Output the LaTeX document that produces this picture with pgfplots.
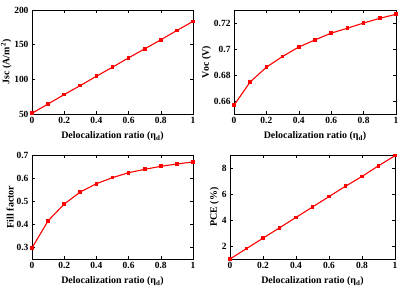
\documentclass[border=0pt]{standalone}
\usepackage{pgfplots}
\pgfplotsset{compat=1.18}
\usepackage{fontspec}
\setmainfont{Liberation Serif}
\pgfplotsset{
  myline/.style={red, line width=1.1pt, mark=square*, mark size=1.3pt, mark options={solid, fill=red}},
  myax/.style={
    scale only axis,
    xmin=0, xmax=1,
    xtick={0,0.2,0.4,0.6,0.8,1},
    tick align=inside,
    tick style={black, thin},
    major tick length=3pt,
    axis line style={black, line width=0.6pt},
    /pgf/number format/assume math mode=true,
    ticklabel style={font=\fontsize{9.5}{11}\selectfont\bfseries},
    label style={font=\fontsize{10}{11}\selectfont\bfseries},
    xlabel={Delocalization ratio (η\textsubscript{d})},
    xlabel style={yshift=-1pt},
    ylabel style={yshift=-4pt},
  }
}
\begin{document}
\begin{tikzpicture}[x=1bp,y=1bp]
\useasboundingbox (0,0) rectangle (415,290);
\begin{axis}[myax, at={(32bp,176bp)}, anchor=south west, width=161bp, height=104bp,
  ymin=50, ymax=200, ytick={50,100,150,200},
  ylabel={Jsc (A/m\textsuperscript{2})}]
\addplot[myline] coordinates {(0,51) (0.1,64.5) (0.2,78) (0.3,91) (0.4,104.5) (0.5,117.5) (0.6,131) (0.7,144) (0.8,157) (0.9,170.5) (1,183.5)};
\end{axis}
\begin{axis}[myax, at={(234bp,176bp)}, anchor=south west, width=162bp, height=104bp,
  ymin=0.65, ymax=0.73, ytick={0.66,0.68,0.7,0.72},
  yticklabel style={/pgf/number format/fixed},
  ylabel={Voc (V)}]
\addplot[myline] coordinates {(0,0.6567) (0.1,0.6747) (0.2,0.686) (0.3,0.6943) (0.4,0.7015) (0.5,0.707) (0.6,0.7122) (0.7,0.716) (0.8,0.72) (0.9,0.7236) (1,0.7267)};
\end{axis}
\begin{axis}[myax, at={(32bp,31bp)}, anchor=south west, width=161bp, height=104bp,
  ymin=0.25, ymax=0.7, ytick={0.3,0.4,0.5,0.6,0.7},
  ylabel={Fill factor}]
\addplot[myline] coordinates {(0,0.298) (0.1,0.4155) (0.2,0.4877) (0.3,0.540) (0.4,0.5758) (0.5,0.602) (0.6,0.6235) (0.7,0.638) (0.8,0.651) (0.9,0.661) (1,0.670)};
\end{axis}
\begin{axis}[myax, at={(230bp,31bp)}, anchor=south west, width=165bp, height=104bp,
  ymin=1, ymax=9, ytick={2,4,6,8},
  ylabel={PCE (\%)}]
\addplot[myline] coordinates {(0,1.0) (0.1,1.8) (0.2,2.6) (0.3,3.4) (0.4,4.2) (0.5,5.0) (0.6,5.8) (0.7,6.6) (0.8,7.35) (0.9,8.17) (1,8.95)};
\end{axis}
\end{tikzpicture}
\end{document}
